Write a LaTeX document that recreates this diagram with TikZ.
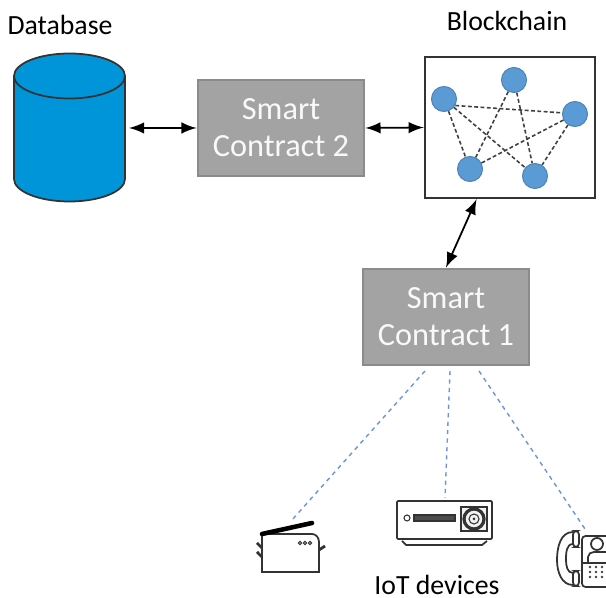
\documentclass[tikz,border=0pt]{standalone}
\usepackage{fontspec}
\setmainfont{Carlito}
\definecolor{boxgray}{HTML}{A3A3A3}
\definecolor{dbblue}{HTML}{0095D8}
\definecolor{peerblue}{HTML}{5B9BD5}
\definecolor{linkblue}{HTML}{6C93DC}

\begin{document}
\begin{tikzpicture}[thick,
contract/.style={draw=boxgray!85!black,fill=boxgray,text=white!95!gray,minimum width=1.66cm,minimum height=0.96cm,align=center,font=\fontsize{9.2}{10.5}\selectfont,inner sep=0pt},
peer/.style={circle,fill=peerblue,draw=peerblue!85!black,line width=0.3pt,minimum size=0.25cm,inner sep=0pt},
peerlink/.style={dash pattern=on 1.1pt off 0.7pt,line width=0.45pt,black!75},
iotlink/.style={dash pattern=on 1.2pt off 1.2pt,line width=0.4pt,linkblue},
duplex/.style={<->,>=latex,line width=0.5pt},
device/.style={line width=0.5pt,black!80},
title/.style={font=\fontsize{7.9}{10}\selectfont}]
\useasboundingbox (0,0) rectangle (6.06,5.98);
\clip (0,0) rectangle (6.06,5.98);

\node[title] (dbtitle) at (0.60,5.73) {Database};
\node[title] (chaintitle) at (5.07,5.77) {Blockchain};
\node[title] (iottitle) at (4.37,0.13) {IoT devices};

% database.
\draw[black!80,line width=0.5pt,fill=dbblue] (0.14,5.22) -- (0.14,4.19)
  arc[start angle=180,end angle=360,x radius=0.555,y radius=0.225] -- (1.25,5.22)
  arc[start angle=0,end angle=180,x radius=0.555,y radius=0.225] -- cycle;
\draw[black!80,line width=0.5pt] (0.14,5.22)
  arc[start angle=180,end angle=360,x radius=0.555,y radius=0.225];
\coordinate (db) at (1.29,4.70);

\node[contract] (sc2) at (2.81,4.70) {Smart\\Contract 2};
\node[contract] (sc1) at (4.46,2.81) {Smart\\Contract 1};

\node[draw=black!80,fill=white,line width=0.7pt,minimum width=1.70cm,minimum height=1.41cm,inner sep=0pt] (chain) at (5.10,4.705) {};

\node[peer] (p1) at (4.44,4.99) {};
\node[peer] (p2) at (5.14,5.18) {};
\node[peer] (p3) at (5.75,4.84) {};
\node[peer] (p4) at (4.70,4.29) {};
\node[peer] (p5) at (5.35,4.22) {};

\foreach \a/\b in {p1/p4,p1/p5,p2/p4,p2/p5,p3/p4,p3/p5}
  \draw[peerlink] (\a) -- (\b);
\draw[peerlink] (p1.-30) -- (p3.175);

\draw[duplex] (db) -- (sc2.west);
\draw[duplex] (sc2.east) -- (chain.west);
\draw[duplex] (chain.245) -- (sc1.north);

% IoT links.
\coordinate (sc1a) at (4.25,2.27);
\coordinate (sc1b) at (4.50,2.27);
\coordinate (sc1c) at (4.79,2.27);
\coordinate (fax) at (2.92,0.78);
\coordinate (proj) at (4.45,1.00);
\coordinate (phone) at (5.85,0.69);
\draw[iotlink] (sc1a) -- (fax);
\draw[iotlink] (sc1b) -- (proj);
\draw[iotlink] (sc1c) -- (phone);

% fax.
\draw[device] (2.62,0.26) -- (2.62,0.64) -- (3.12,0.64) to[out=0,in=90] (3.19,0.56) -- (3.19,0.26) -- cycle;
\draw[line width=1.3pt,line cap=round] (2.62,0.64) -- (3.12,0.75);
\draw[device,line width=0.8pt] (2.57,0.55) -- (2.62,0.50) (2.57,0.46) -- (2.62,0.41) (3.19,0.48) -- (3.25,0.52);
\foreach \x in {3.00,3.05,3.10}
  \draw[device,line width=0.3pt] (\x,0.55) circle (0.017);

% projector.
\draw[device,rounded corners=0.3pt] (3.97,0.59) rectangle (4.92,0.97);
\draw[device,line width=0.3pt] (4.07,0.80) circle (0.03);
\draw[black!80,fill=black!70,line width=0.3pt] (4.14,0.77) rectangle (4.55,0.83);
\draw[device,fill=black!5] (4.61,0.67) rectangle (4.87,0.91);
\draw[device,line width=0.9pt] (4.74,0.79) circle (0.10);
\fill[black!80] (4.74,0.79) circle (0.015);
\draw[device,line width=0.3pt] (4.74,0.79) circle (0.05);
\draw[device] (4.02,0.57) -- (4.06,0.53) -- (4.82,0.53) -- (4.87,0.57);

% phone.
\draw[device,rounded corners=1pt] (5.82,0.11) rectangle (6.25,0.62);
\draw[device] (5.82,0.35) -- (6.25,0.35);
\draw[device] (5.97,0.54) circle (0.06);
\draw[device] (5.88,0.35) -- (5.88,0.41) to[out=90,in=180] (5.94,0.46) -- (6.06,0.46);
\foreach \x in {5.90,5.96,6.02}
  \foreach \y in {0.21,0.26,0.31}
    \fill[black!75] (\x,\y) circle (0.014);
\draw[device,rounded corners=1pt] (5.73,0.51) rectangle (5.79,0.67);
\draw[device,rounded corners=1pt] (5.73,0.12) rectangle (5.79,0.27);
\draw[device] (5.73,0.66) to[out=180,in=90] (5.57,0.38) to[out=-90,in=180] (5.73,0.13);
\draw[device] (5.73,0.54) to[out=180,in=90] (5.66,0.38) to[out=-90,in=180] (5.73,0.25);

\end{tikzpicture}
\end{document}
